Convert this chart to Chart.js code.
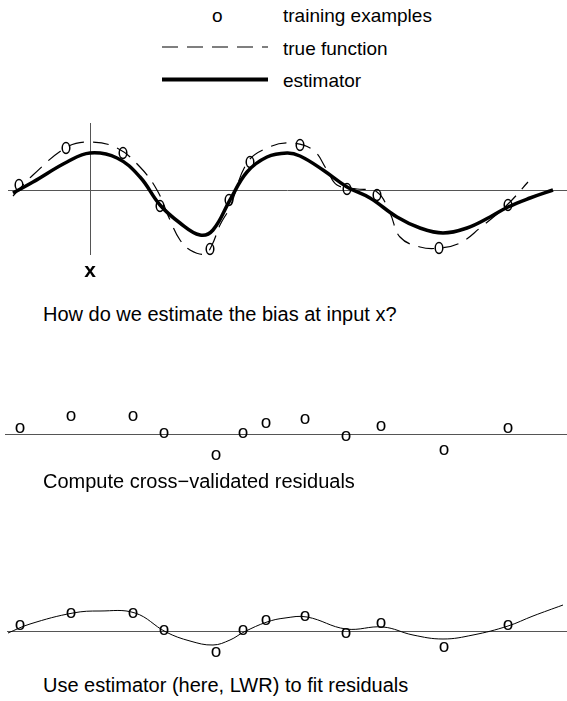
<!DOCTYPE html>
<html>
<head>
<meta charset="utf-8">
<script src="https://cdn.jsdelivr.net/npm/chart.js"></script>
<style>
  body { margin: 0; background: #fff; }
  #page { position: relative; width: 567px; height: 701px; font-family: "Liberation Sans", Arial, sans-serif; color: #000; }
  #page canvas { position: absolute; left: 0; }
  .txt { position: absolute; white-space: nowrap; line-height: 1; }
  .leg { font-size: 19px; }
  .cap { font-size: 20px; left: 43px; }
</style>
</head>
<body>
<div id="page">
  <div class="txt leg" style="left:212px; top:6px;">o</div>
  <div class="txt leg" style="left:283px; top:6px;">training examples</div>
  <svg style="position:absolute; left:162px; top:40px;" width="110" height="14">
    <line x1="0" y1="7" x2="106" y2="7" stroke="#000" stroke-width="1.2" stroke-dasharray="16 9"/>
  </svg>
  <div class="txt leg" style="left:283px; top:39px;">true function</div>
  <svg style="position:absolute; left:162px; top:72px;" width="110" height="14">
    <line x1="0" y1="7.5" x2="106" y2="7.5" stroke="#000" stroke-width="4"/>
  </svg>
  <div class="txt leg" style="left:283px; top:71px;">estimator</div>

  <canvas id="c1" width="567" height="180" style="top:105px;"></canvas>
  <div class="txt" style="left:80px; width:20px; text-align:center; top:259px; font-size:21px; font-weight:bold;">x</div>
  <div class="txt cap" style="top:304px;">How do we estimate the bias at input x?</div>

  <canvas id="c2" width="567" height="80" style="top:395px;"></canvas>
  <div class="txt cap" style="top:471px;">Compute cross−validated residuals</div>

  <canvas id="c3" width="567" height="80" style="top:590px;"></canvas>
  <div class="txt cap" style="top:675px;">Use estimator (here, LWR) to fit residuals</div>
</div>
<script>
// training examples (top panel)
const trainX = [19, 66, 123, 160, 210, 229, 250, 300, 347, 377, 439, 508];
const trainY = [5, 42, 37, -16, -59, -10, 28, 45, 1, -5, -58, -15];

// true function (dashed)
const trueX = [13, 33, 67, 90, 117, 140, 157, 170, 180, 190, 205, 212, 220, 230, 247, 267, 290, 313, 327, 337, 357, 377, 390, 400, 420, 440, 460, 480, 507, 528];
const trueY = [-6, 15, 43, 48, 42, 23, 0, -30, -50, -60, -64, -55, -35, -17, 27, 42, 47, 40, 20, 5, 1, -2, -23, -47, -57, -58, -53, -38, -15, 8];

// estimator (thick)
const estX = [13, 33, 67, 90, 117, 140, 160, 180, 200, 213, 230, 247, 267, 287, 300, 323, 347, 370, 397, 420, 443, 467, 490, 508, 530, 553];
const estY = [-3, 8, 28, 37, 32, 13, -15, -33, -45, -40, -10, 18, 33, 37, 34, 20, 3, -8, -27, -38, -43, -38, -27, -17, -8, 0];

// cross-validated residuals (middle and bottom panels)
const resX = [20, 71, 133, 164, 216, 243, 266, 305, 346, 381, 444, 508];
const resY = [5, 17, 17, 0, -22, 0, 10, 14, -3, 7, -17, 5];

// LWR fit of the residuals
const fitX = [8, 30, 73, 100, 135, 166, 190, 213, 230, 244, 267, 285, 307, 346, 383, 413, 443, 473, 508, 533, 563];
const fitY = [-2, 7, 18, 20, 18, -1, -10, -14, -9, -1, 9, 13, 14, 2, 4, -4, -8, -4, 5, 15, 26];

const pts = (xs, ys) => xs.map((x, i) => ({ x: x, y: ys[i] }));

// "o" markers
function ellipseMark() {
  const c = document.createElement("canvas");
  c.width = 12; c.height = 16;
  const g = c.getContext("2d");
  g.strokeStyle = "#000";
  g.lineWidth = 1.5;
  g.beginPath();
  g.ellipse(6, 8, 3.8, 5.4, 0, 0, Math.PI * 2);
  g.stroke();
  return c;
}
function letterMark() {
  const c = document.createElement("canvas");
  c.width = 20; c.height = 20;
  const g = c.getContext("2d");
  g.fillStyle = "#000";
  g.font = "19px 'Liberation Sans', Arial, sans-serif";
  g.textAlign = "center";
  g.textBaseline = "middle";
  g.fillText("o", 10, 9);
  return c;
}

const axesLines = {
  id: "axesLines",
  beforeDatasetsDraw(chart, args, opts) {
    const { ctx, scales: { x, y } } = chart;
    ctx.save();
    ctx.strokeStyle = "#555";
    ctx.lineWidth = 1;
    const y0 = Math.round(y.getPixelForValue(0)) + 0.5;
    ctx.beginPath();
    ctx.moveTo(x.getPixelForValue(opts.from), y0);
    ctx.lineTo(x.getPixelForValue(567), y0);
    if (opts.vx !== undefined) {
      const vx = Math.round(x.getPixelForValue(opts.vx)) + 0.5;
      ctx.moveTo(vx, y.getPixelForValue(opts.vTop));
      ctx.lineTo(vx, y.getPixelForValue(opts.vBottom));
    }
    ctx.stroke();
    ctx.restore();
  }
};

function baseOptions(ymin, ymax, axisOpts) {
  return {
    responsive: false,
    devicePixelRatio: 1,
    animation: false,
    layout: { padding: 0, autoPadding: false },
    plugins: { legend: { display: false }, tooltip: { enabled: false }, axesLines: axisOpts },
    scales: {
      x: { type: "linear", min: 0, max: 567, display: false },
      y: { type: "linear", min: ymin, max: ymax, display: false }
    }
  };
}

new Chart(document.getElementById("c1"), {
  type: "line",
  data: {
    datasets: [
      { label: "estimator", data: pts(estX, estY), borderColor: "#000", borderWidth: 3.5, pointRadius: 0, tension: 0.4, clip: false },
      { label: "true function", data: pts(trueX, trueY), borderColor: "#000", borderWidth: 1.2, borderDash: [16, 9], pointRadius: 0, tension: 0.4, clip: false },
      { label: "training examples", data: pts(trainX, trainY), showLine: false, pointStyle: ellipseMark(), pointRadius: 6, clip: false }
    ]
  },
  options: baseOptions(-95, 85, { from: 8, vx: 90, vTop: 67, vBottom: -65 }),
  plugins: [axesLines]
});

new Chart(document.getElementById("c2"), {
  type: "line",
  data: {
    datasets: [
      { label: "residuals", data: pts(resX, resY), showLine: false, pointStyle: letterMark(), pointRadius: 8, clip: false }
    ]
  },
  options: baseOptions(-41, 39, { from: 5 }),
  plugins: [axesLines]
});

new Chart(document.getElementById("c3"), {
  type: "line",
  data: {
    datasets: [
      { label: "LWR fit", data: pts(fitX, fitY), borderColor: "#000", borderWidth: 1, pointRadius: 0, tension: 0.4, clip: false },
      { label: "residuals", data: pts(resX, resY), showLine: false, pointStyle: letterMark(), pointRadius: 8, clip: false }
    ]
  },
  options: baseOptions(-39, 41, { from: 7 }),
  plugins: [axesLines]
});
</script>
</body>
</html>
